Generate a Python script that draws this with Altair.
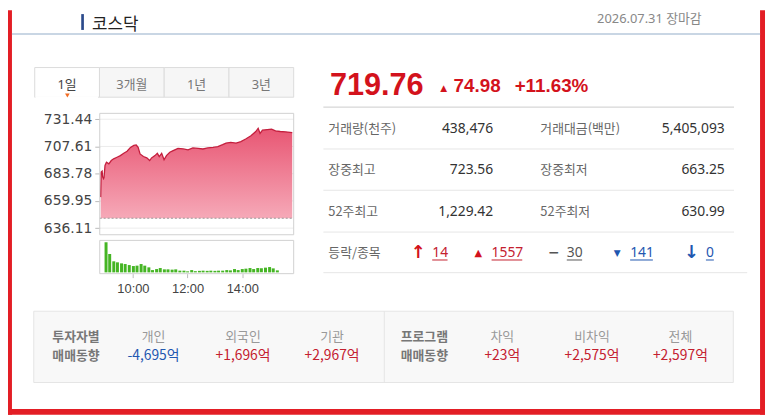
import altair as alt
import pandas as pd

# ---------------- data ----------------
title = "코스닥"
date_label = "2026.07.31 장마감"
tabs = ["1일", "3개월", "1년", "3년"]

price_times = ["09:00","09:01","09:03","09:04","09:06","09:07","09:09","09:12","09:17","09:22",
               "09:27","09:34","09:41","09:48","09:55","10:02","10:09","10:14","10:18","10:22",
               "10:29","10:36","10:42","10:46","10:53","10:58","11:02","11:07","11:12","11:17",
               "11:24","11:31","11:41","11:52","12:02","12:12","12:23","12:33","12:43","12:54",
               "13:04","13:14","13:21","13:31","13:42","13:52","14:02","14:13","14:23","14:28",
               "14:32","14:37","14:47","14:56","15:04","15:14","15:25","15:39"]
price_values = [663.25,685.2,686.0,681.0,679.4,680.5,691.0,693.8,692.4,695.3,
                696.8,698.2,699.6,701.6,703.4,706.8,708.6,708.9,706.8,701.1,
                698.8,697.6,695.3,697.6,699.6,701.6,698.8,701.6,695.9,699.6,
                702.5,704.0,706.0,705.4,704.6,706.3,706.0,705.4,706.3,706.8,
                707.4,709.2,710.6,711.2,710.6,711.8,714.1,717.0,720.7,723.56,
                719.0,721.9,722.4,722.8,721.3,720.7,720.4,719.76]
prev_close = 644.78
price_ticks = [636.11, 659.95, 683.78, 707.61, 731.44]

vol_times = ["09:01","09:09","09:18","09:26","09:35","09:43","09:52","10:01","10:09","10:18",
             "10:26","10:35","10:43","10:52","11:00","11:09","11:17","11:26","11:34","11:43",
             "11:52","12:00","12:09","12:17","12:26","12:34","12:43","12:51","13:00","13:08",
             "13:17","13:26","13:34","13:43","13:51","14:00","14:08","14:17","14:25","14:34",
             "14:42","14:51","15:00","15:08","15:17"]
vol_values = [61800,37700,22700,20600,18500,17100,15000,13000,13800,17100,
              13800,10300,4700,6800,8900,6200,6200,5600,6200,3500,
              3500,2100,4700,2500,3100,3500,3100,3500,3100,3500,
              3500,4700,4100,6800,4700,6800,7600,8900,6800,8900,
              8200,9700,10900,8200,4100]
time_ticks = [10, 12, 14]

last_price = "719.76"
change_abs = "74.98"
change_pct = "+11.63%"

row_labels = ["거래량(천주)", "장중최고", "52주최고", "등락/종목"]
left_values = ["438,476", "723.56", "1,229.42"]
right_labels = ["거래대금(백만)", "장중최저", "52주최저"]
right_values = ["5,405,093", "663.25", "630.99"]

breadth_symbols = ["↑", "▲", "−", "▼", "↓"]
breadth_counts = ["14", "1557", "30", "141", "0"]

investor_title = ["투자자별", "매매동향"]
investor_labels = ["개인", "외국인", "기관"]
investor_values = ["-4,695억", "+1,696억", "+2,967억"]
program_title = ["프로그램", "매매동향"]
program_labels = ["차익", "비차익", "전체"]
program_values = ["+23억", "+2,575억", "+2,597억"]

# ---------------- layout / style ----------------
OFF = 8
W, H = 765, 409
def X(v): return v - OFF
def Y(v): return v - OFF

KR = "'Noto Sans CJK KR', sans-serif"
NUM = "'Noto Sans', 'Noto Sans CJK KR', sans-serif"
ARIAL = "'Liberation Sans', Arial, sans-serif"
DJ = "'DejaVu Sans', sans-serif"
RED = "#d3121c"
RED2 = "#c4202f"
BLUE = "#1f57b0"
FRAME_RED = "#e31e25"

one = pd.DataFrame({"k": [0]})

def box(x1, y1, x2, y2, fill=None, stroke=None, sw=1):
    kw = {}
    if fill is not None:
        kw["fill"] = fill
    else:
        kw["fillOpacity"] = 0
    if stroke is not None:
        kw["stroke"] = stroke
        kw["strokeWidth"] = sw
    return alt.Chart(one).mark_rect(**kw).encode(
        x=alt.value(X(x1)), x2=alt.value(X(x2)), y=alt.value(Y(y1)), y2=alt.value(Y(y2)))

def hline(x1, x2, y, color, sw=1):
    return alt.Chart(one).mark_rule(color=color, strokeWidth=sw).encode(
        x=alt.value(X(x1)), x2=alt.value(X(x2)), y=alt.value(Y(y)))

def vline(x, y1, y2, color, sw=1):
    return alt.Chart(one).mark_rule(color=color, strokeWidth=sw).encode(
        x=alt.value(X(x)), y=alt.value(Y(y1)), y2=alt.value(Y(y2)))

def txt(s, x, y, size=13, color="#333", font=KR, weight="normal", align="left", baseline="middle"):
    return alt.Chart(pd.DataFrame({"s": [s]})).mark_text(
        align=align, baseline=baseline, font=font, fontSize=size, fontWeight=weight, color=color
    ).encode(x=alt.value(X(x)), y=alt.value(Y(y)), text="s:N")

def dt(h, m=0):
    return alt.DateTime(year=2026, month=7, date=31, hours=h, minutes=m)

layers = []

# ---- frame & header ----
layers += [
    box(0 + OFF, 0 + OFF, 4 + OFF, H + OFF, fill=FRAME_RED),
    box(768, 0 + OFF, W + OFF, H + OFF, fill=FRAME_RED),
    box(0 + OFF, 411, W + OFF, H + OFF, fill=FRAME_RED),
    box(4 + OFF, 31, 768, 33, fill="#c9d6e4"),
    box(82, 12, 84.7, 28, fill="#2b4a8b"),
    txt(title, 93, 28.5, size=17, color="#222", baseline="alphabetic"),
    txt(date_label, 709, 17.5, size=13, color="#888", font=NUM, align="right"),
]

# ---- tabs ----
tab_df = pd.DataFrame({"tab": tabs})
tab_x = alt.Scale(domain=tabs, range=[X(35), X(296.7)], paddingInner=0, paddingOuter=0)
layers.append(
    alt.Chart(tab_df).mark_rect(stroke="#dcdcdc", strokeWidth=1).encode(
        x=alt.X("tab:N", scale=tab_x, axis=None),
        y=alt.value(Y(66)), y2=alt.value(Y(96)),
        fill=alt.condition(alt.datum.tab == tabs[0], alt.value("#ffffff"), alt.value("#f6f6f6")),
    )
)
layers.append(hline(35.7, 99, 96, "#ffffff", sw=2))
layers.append(
    alt.Chart(tab_df).mark_text(font=NUM, fontSize=13, baseline="middle").encode(
        x=alt.X("tab:N", scale=tab_x, axis=None),
        y=alt.value(Y(83.5)),
        text="tab:N",
        color=alt.condition(alt.datum.tab == tabs[0], alt.value("#444"), alt.value("#777")),
    )
)
layers.append(
    alt.Chart(one).mark_point(shape="triangle-down", filled=True, size=22, color="#f26b21", opacity=1).encode(
        x=alt.value(X(68)), y=alt.value(Y(94.3)))
)

# ---- price chart ----
tx = alt.Scale(domain=[dt(8, 58), dt(15, 42)], range=[X(100.7), X(296.7)], nice=False)
py = alt.Scale(domain=[630.3, 736.6], range=[Y(235), Y(112.3)], nice=False, zero=False)

price_df = pd.DataFrame({
    "t": ["2026-07-31T" + t + ":00" for t in price_times],
    "p": price_values,
    "base": [prev_close] * len(price_values),
})
tick_df = pd.DataFrame({"v": price_ticks})

layers.append(
    alt.Chart(tick_df).mark_rule(color="#ececec").encode(
        y=alt.Y("v:Q", scale=py, axis=alt.Axis(
            orient="left", offset=-X(100.7), values=price_ticks, format=".2f",
            tickSize=5, tickColor="#bbbbbb", labelPadding=3, domain=False, grid=False,
            labelFont=DJ, labelFontSize=14, labelColor="#444", title=None, labelFlush=False)),
        x=alt.value(X(100.7)), x2=alt.value(X(296.7)),
    )
)
grad = alt.Gradient(gradient="linear",
                    stops=[alt.GradientStop(color="#f6a9b8", offset=0),
                           alt.GradientStop(color="#e85673", offset=1)],
                    x1=1, x2=1, y1=1, y2=0)
layers.append(
    alt.Chart(price_df).mark_area(color=grad).encode(
        x=alt.X("t:T", scale=tx, axis=None),
        y=alt.Y("p:Q", scale=py, axis=None),
        y2="base:Q",
    )
)
layers.append(
    alt.Chart(price_df).mark_line(color="#c41f3e", strokeWidth=1.3).encode(
        x=alt.X("t:T", scale=tx, axis=None),
        y=alt.Y("p:Q", scale=py, axis=None),
    )
)
layers.append(
    alt.Chart(pd.DataFrame({"v": [prev_close]})).mark_rule(color="#999", strokeDash=[2, 2]).encode(
        y=alt.Y("v:Q", scale=py, axis=None),
        x=alt.value(X(100.7)), x2=alt.value(X(296.7)),
    )
)
layers.append(box(100.7, 112.3, 296.7, 235, stroke="#d0d0d0"))

# ---- volume chart ----
vy = alt.Scale(domain=[0, 64000], range=[Y(273), Y(241.5)], nice=False)
vol_df = pd.DataFrame({
    "t": ["2026-07-31T" + t + ":00" for t in vol_times],
    "v": vol_values,
})
layers.append(box(100.7, 240.7, 296.7, 274.3, stroke="#d0d0d0"))
layers.append(
    alt.Chart(vol_df).mark_bar(color="#45b524", size=3).encode(
        x=alt.X("t:T", scale=tx, axis=alt.Axis(
            orient="bottom", offset=-(H - Y(274.3)), values=[dt(h) for h in time_ticks],
            format="%H:%M", tickSize=4, tickColor="#bbbbbb", labelPadding=5,
            domain=False, grid=False, labelFont=ARIAL, labelFontSize=13, labelColor="#444",
            title=None, labelFlush=False)),
        y=alt.Y("v:Q", scale=vy, axis=None),
    )
)

# ---- headline price ----
layers += [
    txt(last_price, 333.3, 93.3, size=31, color=RED, font=ARIAL, weight="bold", baseline="alphabetic"),
    txt("▲", 448.3, 89.8, size=9, color=RED, font=DJ, align="center", baseline="alphabetic"),
    txt(change_abs, 458.3, 91, size=19, color=RED, font=ARIAL, weight="bold", baseline="alphabetic"),
    txt(change_pct, 520, 91, size=19, color=RED, font=ARIAL, weight="bold", baseline="alphabetic"),
    hline(326.7, 741.7, 106, "#cccccc"),
    hline(326.7, 741.7, 148.3, "#e6e6e6"),
    hline(326.7, 741.7, 190, "#e6e6e6"),
    hline(326.7, 741.7, 232.3, "#e6e6e6"),
    hline(326.7, 755, 273.3, "#e6e6e6"),
]

# ---- stats table ----
ry = alt.Scale(type="point", domain=[0, 1, 2, 3], range=[Y(128.3), Y(253.3)], padding=0)
lab_df = pd.DataFrame({"row": list(range(len(row_labels))), "s": row_labels})
lv_df = pd.DataFrame({"row": list(range(len(left_values))), "s": left_values})
rl_df = pd.DataFrame({"row": list(range(len(right_labels))), "s": right_labels})
rv_df = pd.DataFrame({"row": list(range(len(right_values))), "s": right_values})

def table_col(df, x, align, font, size, color):
    return alt.Chart(df).mark_text(align=align, baseline="middle", font=font, fontSize=size, color=color).encode(
        x=alt.value(X(x)), y=alt.Y("row:O", scale=ry, axis=None), text="s:N")

layers += [
    table_col(lab_df, 331.7, "left", KR, 13, "#666"),
    table_col(lv_df, 498.3, "right", NUM, 14, "#333"),
    table_col(rl_df, 546, "left", KR, 13, "#666"),
    table_col(rv_df, 732.3, "right", NUM, 14, "#333"),
]

# ---- breadth row ----
b_y = 253.3
sym_x = [422.7, 483.3, 559.5, 623.5, 699]
sym_size = [18, 10, 14, 9, 18]
sym_color = [RED, RED, "#555", BLUE, BLUE]
cnt_x = [436.7, 496.7, 572.7, 636.7, 713.3]
cnt_w = [15.5, 31, 15.5, 23, 8]
cnt_color = [RED2, RED2, "#555", BLUE, BLUE]
for i in range(len(breadth_symbols)):
    layers.append(txt(breadth_symbols[i], sym_x[i], b_y, size=sym_size[i], color=sym_color[i],
                      font=DJ, weight="bold", align="center"))
    layers.append(txt(breadth_counts[i], cnt_x[i], b_y, size=14, color=cnt_color[i], font=NUM))
    layers.append(hline(cnt_x[i], cnt_x[i] + cnt_w[i], 260.5, cnt_color[i]))

# ---- investor panel ----
layers += [
    box(34, 312.3, 741, 384.3, fill="#f8f8f8", stroke="#e5e5e5"),
    vline(388.3, 312.3, 384.3, "#e5e5e5"),
    txt(investor_title[0], 76.7, 338.3, size=13, color="#777", weight="bold", align="center"),
    txt(investor_title[1], 76.7, 357.7, size=13, color="#777", weight="bold", align="center"),
    txt(program_title[0], 428.7, 338.3, size=13, color="#777", weight="bold", align="center"),
    txt(program_title[1], 428.7, 357.7, size=13, color="#777", weight="bold", align="center"),
]
inv_x = [155, 245.5, 335.5]
prg_x = [507.5, 598.2, 687.5]
for i in range(3):
    layers.append(txt(investor_labels[i], inv_x[i], 338.3, size=13, color="#999", align="center"))
    c = BLUE if investor_values[i].startswith("-") else RED2
    layers.append(txt(investor_values[i], inv_x[i], 358, size=14, color=c, align="center"))
    layers.append(txt(program_labels[i], prg_x[i], 338.3, size=13, color="#999", align="center"))
    c = BLUE if program_values[i].startswith("-") else RED2
    layers.append(txt(program_values[i], prg_x[i], 358, size=14, color=c, align="center"))

chart = alt.layer(*layers).resolve_scale(x="independent", y="independent").properties(
    width=W, height=H, autosize=alt.AutoSizeParams(type="none"), padding=0, background="#ffffff"
).configure_view(stroke=None)

chart.save("out.html", embed_options={"renderer": "svg", "actions": False})
